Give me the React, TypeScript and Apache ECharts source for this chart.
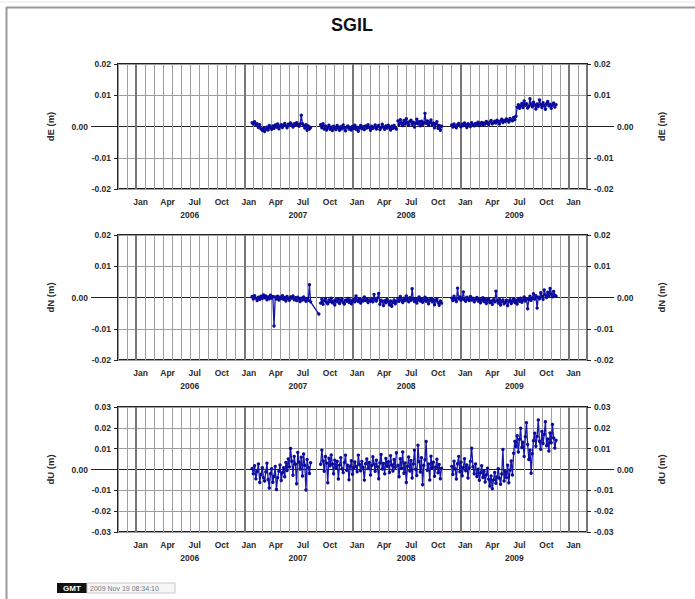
import React, { useEffect, useRef } from "react";
import * as echarts from "echarts";

const FONT = "'Liberation Sans', Arial, Helvetica, sans-serif";
const TITLE = "SGIL";
const STAMP = "2009 Nov 19 08:34:10";
const MONTH_ABBR = ["Jan", "Feb", "Mar", "Apr", "May", "Jun", "Jul", "Aug", "Sep", "Oct", "Nov", "Dec"];
const LABEL_MONTHS = [1, 4, 7, 10];
const AXIS_FIRST_MONTH = 10; // Nov 2005, counted in months from Jan 2005
const AXIS_LAST_MONTH = 62; // Mar 2010
const STEP_DAYS = 4;

// ---- dE (mm) ----
const dE_seg1 = [1.2, 0.8, 1.5, 0.4, 0.9, -0.3, 0.6, -0.8, -1.2, -0.5, -1.6, -0.9, -0.2, -1.1, 0.3, -0.4, -0.9, 0.2, -0.6, 0.5, -0.2, 0.8, -0.7, 0.1, 0.6, -0.3, 0.4, 1.0, 0.2, -0.4, 0.7, 0.3, 1.1, 0.5, -0.2, 0.9, 0.4, 1.2, 0.6, 0.1, 0.8, 3.6, 0.9, 0.3, -0.5, 0.6, -1.2, 0.2, -0.8, -0.3];
const dE_seg2 = [0.6, -0.4, 0.9, -0.8, 0.2, -1.1, -0.3, 0.4, -0.9, -0.2, -1.3, 0.1, -0.6, -1.0, 0.3, -0.5, -1.2, -0.1, -0.7, 0.5, -0.4, -1.4, -0.2, 0.2, -0.8, -0.3, -1.1, 0.0, -0.6, 0.4, -0.9, -0.2, -1.5, -0.4, 0.3, -0.7, -0.1, -1.0, 0.2, -0.5, 0.6, -0.3, -1.2, 0.1, -0.6, -0.2, 0.5, -0.8, -0.1, 0.3, -1.0, -0.4, 0.7, -0.2, -0.9, 0.2, -0.5, 0.4, -0.3, -1.1, 0.1, -0.6, 0.3, -0.4, -0.8];
const dE_seg3 = [1.8, 0.6, 2.2, 1.1, 0.3, 1.9, 0.8, 2.5, 1.2, 0.4, 1.6, 2.0, 0.7, 1.4, -0.2, 1.0, 2.3, 0.9, 1.5, 0.2, 1.7, 0.6, 1.2, 4.2, 1.0, 1.8, 0.4, 1.3, 2.1, 0.5, 1.1, -0.4, 0.8, 1.5, -0.6, 0.3, -1.2, 0.1];
const dE_seg4 = [0.5, -0.2, 0.8, 0.1, -0.4, 0.6, 1.0, 0.2, -0.1, 0.7, 0.3, 1.1, 0.4, -0.3, 0.9, 0.5, 0.0, 1.2, 0.6, 0.2, 1.0, 0.7, 1.4, 0.3, 0.9, 1.3, 0.5, 1.1, 0.8, 1.6, 1.0, 0.6, 1.4, 1.9, 0.9, 1.2, 1.7, 1.1, 2.0, 1.5, 0.8, 1.8, 2.3, 1.3, 1.9, 1.6, 2.4, 2.0, 1.4, 2.6, 2.1, 1.8, 2.9, 2.2, 3.3,
  6.2, 7.0, 5.8, 6.6, 7.4, 6.1, 8.2, 6.8, 7.3, 5.9, 6.5, 8.9, 7.1, 6.3, 7.8, 6.9, 5.6, 7.2, 6.4, 8.5, 7.0, 6.1, 7.6, 6.7, 5.5, 7.3, 8.0, 6.6, 7.1, 5.8, 6.9, 7.5, 6.2, 7.0];

// ---- dN (mm) ----
const dN_seg1 = [0.3, -0.5, 0.6, -0.2, -1.0, 0.1, -0.6, 0.4, -0.3, 0.8, -0.1, 0.5, -0.7, 0.2, -0.4, 0.7, -0.2, 0.3, -9.1, 0.2, -0.5, 0.4, -0.8, 0.1, -0.3, 0.6, -0.6, 0.0, -1.1, 0.3, -0.4, -0.9, 0.2, -0.2, 0.5, -0.7, -0.1, -1.0, 0.1, -0.5, -1.3, -0.2, -0.8, 0.2, -0.6, -1.2, -0.3, -0.9, 4.1, -1.4];
const dN_outlier = [-5.3];
const dN_seg2 = [-1.8, -0.6, -2.2, -1.0, -0.3, -1.5, -2.0, -0.8, -1.3, -0.2, -1.7, -1.1, -2.4, -0.7, -1.4, -0.5, -1.9, -1.0, -0.4, -1.6, -2.1, -0.9, -1.2, -0.3, -1.5, -0.8, -2.0, -1.1, -0.6, -1.4, 0.5, -0.9, -1.3, -0.4, -1.8, -0.7, -1.1, 0.2, -1.0, -0.5, -1.6, -0.8, -1.2, -0.3, -1.4, 1.0, -0.7, -1.1, -0.2, 1.3, -2.2, -0.9, -1.3, -2.6, -1.0, -1.7, -0.6, -1.4, -2.3, -1.1, -2.8, -1.5, -0.8, -2.0, -1.3];
const dN_seg3 = [-0.4, -1.2, 0.3, -0.8, -1.6, -0.2, -1.0, 0.5, -0.6, -1.4, -0.1, -0.9, 2.8, -0.5, -1.3, -0.3, -1.8, -0.7, 0.2, -1.1, -0.4, -1.5, -0.8, 0.1, -1.2, -0.6, -2.0, -0.9, -0.3, -1.4, -0.7, -2.3, -1.0, -0.5, -1.6, -2.5, -1.1, -1.8];
const dN_seg4 = [-0.2, -1.0, 0.4, -0.6, -1.3, 3.0, -0.4, 0.2, -0.9, -0.3, 1.8, -0.7, -1.2, 0.1, -0.5, -1.0, 0.3, -0.8, -0.2, -1.4, -0.6, 0.0, -1.1, -0.4, -1.7, -0.8, -0.1, -1.3, -0.5, -1.9, -0.9, -0.3, -1.6, -1.1, -2.2, -0.7, -1.4, 2.0, -1.0, -1.8, -0.6, -2.4, -1.2, -0.8, -2.0, -1.5, -0.9, -2.6, -1.3, -0.7, -1.9, -1.1, -0.5, -1.6, -0.9, -2.1, -0.6, -1.2, -0.2, -1.5, -0.8, 0.2, -1.1, -0.4, -3.6, -0.7, 0.4, -0.9, -0.2, 1.2, -0.5, 0.6, -3.4, 0.1, -0.4, 1.5, 0.3, -0.6, 2.4, 0.8, 0.0, 1.7, 0.5, 2.9, 1.1, 0.2, 1.9, 0.7, 0.4];

// ---- dU (mm) ----
const dU_seg1 = [0.5, -2.1, 1.8, -4.5, -1.0, 2.6, -6.2, -2.4, 0.8, -3.9, -5.5, -1.2, 3.0, -4.8, -8.9, -2.0, 0.4, -6.1, -3.2, 1.5, -9.6, -4.0, -0.8, 2.2, -5.3, -1.6, 0.9, -3.5, 3.4, -0.5, 5.1, 1.2, 10.1, 4.0, -2.8, 6.3, 2.5, -6.8, 8.2, 3.6, 0.2, 5.9, -3.1, 7.4, 2.0, -9.8, 4.8, 1.0, -1.9, 3.2];
const dU_seg2 = [2.5, 9.3, 4.1, -0.8, 6.2, 3.0, -6.4, 5.4, 1.8, 7.0, 2.6, -2.0, 4.5, 0.9, 3.8, -4.6, 2.1, 5.6, 0.3, -1.5, 3.3, 6.8, -0.4, 2.0, -4.9, 1.2, 4.2, -2.3, 0.8, 3.6, 1.5, -1.1, 6.9, 2.4, -0.6, 3.9, 1.0, -5.1, 2.8, 5.0, 0.5, 3.4, -2.6, 1.9, 6.1, 2.7, -0.9, 4.4, 1.3, -4.4, 3.1, 7.2, 0.2, 2.9, -2.1, 5.3, 1.6, 3.7, -1.4, 6.6, 2.2, -0.7, 4.8, 1.1, 8.0];
const dU_seg3 = [2.0, -3.5, 5.2, 0.6, 8.4, -1.8, 3.1, -6.2, 1.4, 6.0, -0.7, 4.3, -4.1, 2.6, 9.2, 0.1, -2.9, 11.6, 3.8, -1.2, 5.6, -7.3, 1.9, 4.7, 13.4, -0.4, 2.7, -5.0, 6.4, 0.8, 3.5, -3.2, 1.1, 4.9, -1.6, 2.4, -4.4, 0.6];
const dU_seg4 = [1.5, -2.4, 4.0, 0.2, -4.6, 2.8, 6.3, -1.1, 3.5, -3.0, 1.0, 5.2, -0.6, 2.2, -4.1, 0.8, 3.9, 10.2,
  1.3, -2.0, 2.6, -3.4, 0.1, -5.2, -1.6, 1.8, -3.8, -0.9, -6.0, -2.5, 0.6, -4.7, -7.9, -3.1, -9.2, -5.0, -1.4, -6.6, -3.6, 0.4, -4.2, -7.1, -2.2, 9.6, -5.5, -1.0, -3.9, 2.0, -6.4, -0.3, 4.1, -2.6, 7.8, 13.5,
  11.0, 16.2, 8.4, 14.5, 19.8, 10.6, 13.1, 6.2, 15.7, 22.5, 12.0, 4.8, 9.3, -1.8, 7.6, 13.8, 17.4, 11.2, 15.9, 23.8, 13.6, 9.7, 18.2, 12.5, 16.8, 22.9, 11.4, 14.7, 8.9, 17.5, 12.8, 21.6, 15.1, 10.3, 14.0];

type Seg = { start: string; values: number[]; join?: boolean };

const dE_segments: Seg[] = [
  { start: "2007-01-28", values: dE_seg1 },
  { start: "2007-09-15", values: dE_seg2 },
  { start: "2008-06-02", values: dE_seg3 },
  { start: "2008-12-01", values: dE_seg4 },
];
const dN_segments: Seg[] = [
  { start: "2007-01-28", values: dN_seg1, join: true },
  { start: "2007-09-09", values: dN_outlier },
  { start: "2007-09-15", values: dN_seg2 },
  { start: "2008-06-02", values: dN_seg3 },
  { start: "2008-12-01", values: dN_seg4 },
];
const dU_segments: Seg[] = [
  { start: "2007-01-28", values: dU_seg1 },
  { start: "2007-09-15", values: dU_seg2 },
  { start: "2008-06-02", values: dU_seg3 },
  { start: "2008-12-01", values: dU_seg4 },
];

const PANELS = [
  { name: "dE (m)", segments: dE_segments, min: -0.02, max: 0.02 },
  { name: "dN (m)", segments: dN_segments, min: -0.02, max: 0.02 },
  { name: "dU (m)", segments: dU_segments, min: -0.03, max: 0.03 },
];

function monthCoord(d: Date) {
  const y = d.getUTCFullYear();
  const m = d.getUTCMonth();
  const day = d.getUTCDate();
  const dim = new Date(Date.UTC(y, m + 1, 0)).getUTCDate();
  return (y - 2005) * 12 + m + (day - 1) / dim;
}

function buildData(segs: Seg[]) {
  const out: any[] = [];
  segs.forEach((s) => {
    const base = new Date(s.start + "T00:00:00Z");
    let lastX = 0;
    s.values.forEach((v, i) => {
      const d = new Date(base.getTime() + i * STEP_DAYS * 86400000);
      lastX = monthCoord(d);
      out.push([lastX, v / 1000]);
    });
    if (!s.join) out.push([lastX + 0.01, "-"]);
  });
  return out;
}

const monthCats: string[] = [];
for (let k = AXIS_FIRST_MONTH; k < AXIS_LAST_MONTH; k++) {
  const y = 2005 + Math.floor(k / 12);
  const m = (k % 12) + 1;
  monthCats.push(`${y}-${m < 10 ? "0" + m : m}`);
}

const TOPS = [64, 235, 407];
const GRID_LEFT = 118;
const GRID_W = 469;
const GRID_H = 125;
const TXT = "#2a2a2a";
const GRIDC = "#9e9e9e";
const DOT = "#0a0a9c";

export default function App() {
  const ref = useRef<HTMLDivElement>(null);
  useEffect(() => {
    if (!ref.current) return;
    const chart = echarts.init(ref.current, null, { renderer: "svg" });
    const grid: any[] = [];
    const xAxis: any[] = [];
    const yAxis: any[] = [];
    const series: any[] = [];
    PANELS.forEach((p, i) => {
      grid.push({ left: GRID_LEFT, width: GRID_W, top: TOPS[i], height: GRID_H, show: true, borderColor: "#222", borderWidth: 2, backgroundColor: "transparent" });
      const xv = xAxis.length;
      xAxis.push({
        type: "value", gridIndex: i, min: AXIS_FIRST_MONTH, max: AXIS_LAST_MONTH, interval: 1,
        axisLabel: { show: false }, axisTick: { show: false }, axisLine: { show: false },
        splitLine: { show: true, lineStyle: { color: GRIDC, width: 1 } },
      });
      xAxis.push({
        type: "category", gridIndex: i, data: monthCats, boundaryGap: true, position: "bottom",
        axisLine: { show: false }, axisTick: { show: false },
        splitLine: { show: true, interval: (_idx: number, val: string) => val.endsWith("-01"), lineStyle: { color: "#777", width: 2 } },
        axisLabel: {
          interval: 0, margin: 6, fontFamily: FONT, fontSize: 8.5, fontWeight: "bold", color: TXT,
          formatter: (val: string) => {
            const [y, mm] = val.split("-");
            const m = +mm;
            if (!LABEL_MONTHS.includes(m)) return "";
            if (m === 7) return `{m|${MONTH_ABBR[m - 1]}}\n{y|${y}}`;
            return `{m|${MONTH_ABBR[m - 1]}}`;
          },
          rich: {
            m: { fontFamily: FONT, fontSize: 8.5, fontWeight: "bold", color: TXT, lineHeight: 13 },
            y: { fontFamily: FONT, fontSize: 8.5, fontWeight: "bold", color: TXT, lineHeight: 13, padding: [0, 10, 0, 0] },
          },
        },
      });
      const zeroIdx = Math.round(-p.min / 0.01);
      const colors: string[] = [];
      for (let k = 0; k <= zeroIdx; k++) colors.push(k === zeroIdx ? "#222" : GRIDC);
      const yl = yAxis.length;
      const labelFmt = (v: number) => (Math.abs(v) < 1e-9 ? "" : v.toFixed(2));
      const lbl = { formatter: labelFmt, fontFamily: FONT, fontSize: 8.5, fontWeight: "bold", color: TXT, margin: 7 };
      yAxis.push({
        type: "value", gridIndex: i, position: "left", min: p.min, max: p.max, interval: 0.01,
        axisLine: { show: false }, axisTick: { show: true, length: 4, lineStyle: { color: "#222" } },
        axisLabel: lbl,
        splitLine: { show: true, lineStyle: { color: colors, width: 1 } },
      });
      yAxis.push({
        type: "value", gridIndex: i, position: "right", min: p.min, max: p.max, interval: 0.01,
        axisLine: { show: false }, axisTick: { show: true, length: 4, lineStyle: { color: "#222" } },
        axisLabel: lbl,
        splitLine: { show: false },
      });
      const zeroAxis = (pos: string, gap: number) => ({
        type: "value", gridIndex: i, position: pos, offset: 27, min: p.min, max: p.max, interval: 0.01,
        axisLine: { show: false },
        axisTick: { show: true, inside: true, length: 26, customValues: [0], lineStyle: { color: "#222" } },
        axisLabel: { customValues: [0], formatter: (v: number) => (Math.abs(v) < 1e-9 ? "0.00" : ""), fontFamily: FONT, fontSize: 8.5, fontWeight: "bold", color: TXT, margin: 3 },
        splitLine: { show: false },
        name: p.name, nameLocation: "middle", nameRotate: 90, nameGap: gap,
        nameTextStyle: { fontFamily: FONT, fontSize: 9.5, fontWeight: "bold", color: TXT },
      });
      yAxis.push(zeroAxis("left", 36));
      yAxis.push(zeroAxis("right", 42));
      series.push({
        type: "line", xAxisIndex: xv, yAxisIndex: yl, data: buildData(p.segments),
        symbol: "circle", symbolSize: 3.4, showSymbol: true, connectNulls: false,
        itemStyle: { color: DOT }, lineStyle: { color: "#1616a8", width: 1.3 },
        z: 5, silent: true,
      });
    });

    chart.setOption({
      animation: false,
      backgroundColor: "#ffffff",
      textStyle: { fontFamily: FONT },
      grid, xAxis, yAxis, series,
      graphic: [
        { type: "line", shape: { x1: 0, y1: 2, x2: 695, y2: 2 }, style: { stroke: "#e8e8e8", lineWidth: 1 } },
        { type: "line", shape: { x1: 6, y1: 7.5, x2: 695, y2: 7.5 }, style: { stroke: "#9a9a9a", lineWidth: 2 } },
        { type: "line", shape: { x1: 6.5, y1: 7, x2: 6.5, y2: 599 }, style: { stroke: "#9a9a9a", lineWidth: 2 } },
        { type: "text", x: 352, y: 25, style: { text: TITLE, font: `bold 18px ${FONT}`, fill: "#111", textAlign: "center", textVerticalAlign: "middle" } },
        { type: "rect", shape: { x: 57, y: 583, width: 30, height: 10 }, style: { fill: "#111" } },
        { type: "text", x: 72, y: 588, style: { text: "GMT", font: `bold 8px ${FONT}`, fill: "#fff", textAlign: "center", textVerticalAlign: "middle" } },
        { type: "rect", shape: { x: 87, y: 583, width: 88, height: 10 }, style: { fill: "#f6f6f6", stroke: "#c8c8c8", lineWidth: 1 } },
        { type: "text", x: 90, y: 588, style: { text: STAMP, font: `7px ${FONT}`, fill: "#777", textAlign: "left", textVerticalAlign: "middle" } },
      ],
    });
    return () => chart.dispose();
  }, []);
  return <div ref={ref} style={{ position: "fixed", left: 0, top: 0, width: 695, height: 599 }} />;
}
